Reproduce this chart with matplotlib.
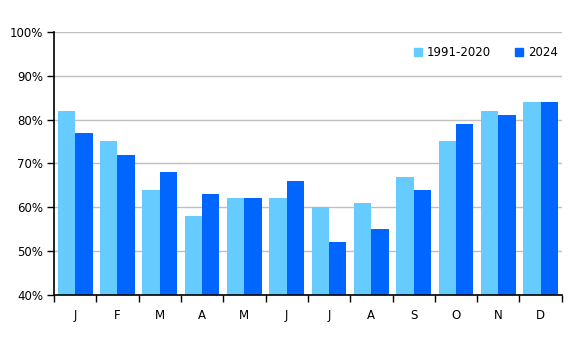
import numpy as np
import matplotlib.pyplot as plt
from matplotlib.patches import Patch

months = ['J', 'F', 'M', 'A', 'M', 'J', 'J', 'A', 'S', 'O', 'N', 'D']
normal = [82, 75, 64, 58, 62, 62, 60, 61, 67, 75, 82, 84]
y2024 = [77, 72, 68, 63, 62, 66, 52, 55, 64, 79, 81, 84]

c_normal = '#66ccff'
c_2024 = '#0066ff'

fig = plt.figure(figsize=(5.87, 3.39), dpi=100)
ax = fig.add_axes([0.092, 0.13, 0.865, 0.776])

x = np.arange(len(months))
w = 0.41
ax.bar(x - w/2, normal, w, color=c_normal, zorder=3)
ax.bar(x + w/2, y2024, w, color=c_2024, zorder=3)

ax.set_xlim(-0.5, len(months) - 0.5)
ax.set_ylim(40, 100)
ax.set_yticks(range(40, 101, 10))
ax.set_yticklabels([f'{v}%' for v in range(40, 101, 10)], fontsize=8.5)
ax.yaxis.grid(True, color='#bfbfbf', linewidth=1, zorder=0)

ax.set_xticks(x)
ax.set_xticklabels(months, fontsize=8.5)
ax.set_xticks(np.arange(-0.5, len(months)), minor=True)
ax.tick_params(axis='x', which='major', length=0, pad=10)
ax.tick_params(axis='x', which='minor', length=5, width=1, direction='out')
ax.tick_params(axis='y', length=5, width=1, direction='out', pad=3)

for s in ('top', 'right'):
    ax.spines[s].set_visible(False)
for s in ('left', 'bottom'):
    ax.spines[s].set_linewidth(1.2)
    ax.spines[s].set_zorder(4)

handles = [Patch(color=c_normal, label='1991-2020'), Patch(color=c_2024, label='2024')]
ax.legend(handles=handles, loc='upper right', bbox_to_anchor=(1.013, 0.985), ncol=2,
          frameon=False, fontsize=8.5, handlelength=0.7, handleheight=0.7,
          handletextpad=0.4, columnspacing=2.0)

fig.savefig('out.png', dpi=100)
